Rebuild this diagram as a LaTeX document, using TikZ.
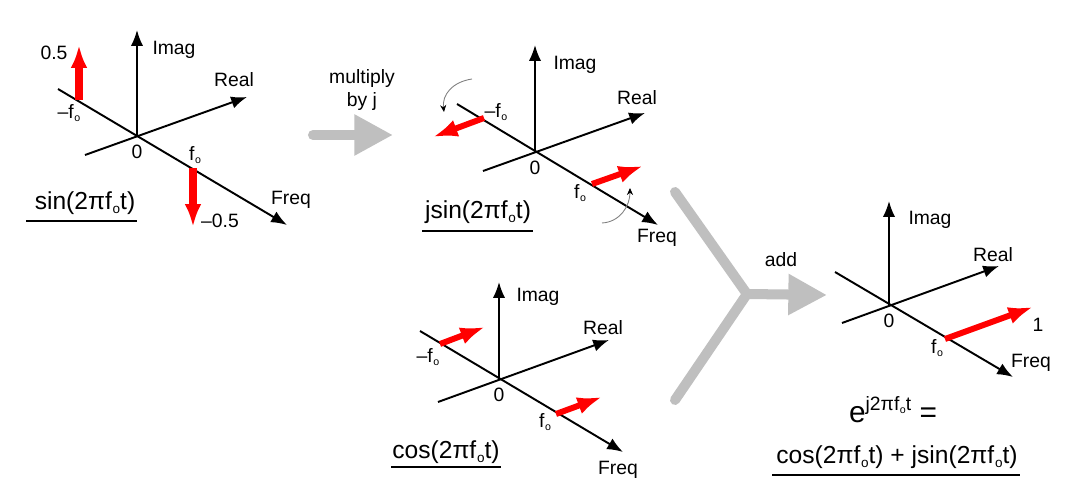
\documentclass[tikz,border=0pt]{standalone}
\usepackage{fontspec}
\setmainfont{Liberation Sans}
\usetikzlibrary{arrows.meta}
\newcommand{\fsub}{f\kern0.03em\raisebox{-0.3ex}{\scalebox{0.55}{o}}}

\begin{document}
\begin{tikzpicture}[x=0.02cm,y=-0.02cm,
  axis/.style={line width=1.1pt,-{Latex[length=9pt,width=7pt]}},
  lbl/.style={font=\fontsize{11}{13}\selectfont,inner sep=0pt},
  formula/.style={font=\fontsize{14}{17}\selectfont,inner sep=0pt},
  vec/.style={red,line width=3.4pt,-{Latex[length=14pt,width=10pt]}},
  bigvec/.style={red,line width=4pt,-{Latex[length=13pt,width=9.5pt]}},
  fat/.style={gray!50,line width=5.7pt,line cap=round,line join=round},
  fattip/.style={fat,-{Triangle[length=22pt,width=22pt]}},
  turn/.style={gray,line width=0.5pt,-{Stealth[black,length=4pt,width=3.5pt]}},
  uline/.style={line width=1.2pt}]
\useasboundingbox (0,0) rectangle (1080,496);

% axes of the four panels
\foreach \n/\ox/\oy/\im/\rbx/\rby/\ftx/\fty/\fbx/\fby in %
{s/137/136/106/-52/19/150/89/-79/-47,
 j/535/152/107/-52/19/123/73/-78/-48,
 c/499/379/97/-61/23/124/73/-79/-48,
 e/889/305/104/-47/18/124/72/-54/-33} {
   \coordinate (\n-o) at (\ox,\oy);
   \coordinate (\n-imag) at (\ox,\oy-\im);
   \coordinate (\n-rb) at (\ox+\rbx,\oy+\rby);
   \coordinate (\n-real) at (\ox+110,\oy-39);
   \coordinate (\n-fb) at (\ox+\fbx,\oy+\fby);
   \coordinate (\n-freq) at (\ox+\ftx,\oy+\fty);
   \draw[axis] (\n-o) -- (\n-imag);
   \draw[axis] (\n-rb) -- (\n-real);
   \draw[axis] (\n-fb) -- (\n-freq);
   \node[lbl] (\n-zero) at (\ox,\oy+16) {0};
}

% sin
\node[lbl] (s-imagl) at (174,50) {Imag};
\node[lbl] (s-reall) at (234,80) {Real};
\node[lbl] (s-freql) at (291,200) {Freq};
\node[lbl] (s-half) at (54,53) {0.5};
\node[lbl] (s-mhalf) at (220,221) {–0.5};
\node[lbl] (s-mfo) at (69,113) {–\fsub};
\node[lbl] (s-fo) at (195,155) {\fsub};
\coordinate (s-fm) at (79,100);
\coordinate (s-up) at (79,45);
\coordinate (s-fp) at (193,168);
\coordinate (s-dn) at (193,227);
\draw[bigvec] (s-fm) -- (s-up);
\draw[bigvec] (s-fp) -- (s-dn);
\node[formula] (s-name) at (85,203) {sin(2π\fsub t)};
\draw[uline] (26,221) -- (137,221);

% multiply by j
\node[lbl,align=center] (mul) at (362,90) {multiply\\by j};
\coordinate (m-start) at (313,135);
\coordinate (m-tip) at (393,135);
\draw[fattip] (m-start) -- (m-tip);

% jsin
\node[lbl] (j-imagl) at (575,65) {Imag};
\node[lbl] (j-reall) at (637,98) {Real};
\node[lbl] (j-freql) at (657,238) {Freq};
\node[lbl] (j-mfo) at (496,112) {–\fsub};
\node[lbl] (j-fo) at (580,193) {\fsub};
\coordinate (j-fm) at (484,118);
\coordinate (j-a) at (433,137);
\coordinate (j-fp) at (592,184);
\coordinate (j-b) at (643,166);
\draw[vec] (j-fm) -- (j-a);
\draw[vec] (j-fp) -- (j-b);
\coordinate (j-t1) at (472,79);
\coordinate (j-t2) at (444,112);
\coordinate (j-t3) at (602,223);
\coordinate (j-t4) at (630,188);
\draw[turn] (j-t1) .. controls (452,82) and (442,95) .. (j-t2);
\draw[turn] (j-t3) .. controls (620,222) and (630,206) .. (j-t4);
\node[formula] (j-name) at (478,212) {jsin(2π\fsub t)};
\draw[uline] (422,231) -- (533,231);

% cos
\node[lbl] (c-imagl) at (538,297) {Imag};
\node[lbl] (c-reall) at (603,328) {Real};
\node[lbl] (c-freql) at (618,470) {Freq};
\node[lbl] (c-mfo) at (428,357) {–\fsub};
\node[lbl] (c-fo) at (545,422) {\fsub};
\coordinate (c-fm) at (440,344);
\coordinate (c-a) at (485,327);
\coordinate (c-fp) at (556,414);
\coordinate (c-b) at (602,397);
\draw[vec] (c-fm) -- (c-a);
\draw[vec] (c-fp) -- (c-b);
\node[formula] (c-name) at (446,452) {cos(2π\fsub t)};
\draw[uline] (391,467) -- (501,467);

% add
\coordinate (y-top) at (675,192);
\coordinate (y-bot) at (675,400);
\coordinate (y-mid) at (747,294);
\coordinate (y-tip) at (827,295);
\draw[fat] (y-top) -- (y-mid) -- (y-bot);
\draw[fattip] (y-mid) -- (y-tip);
\node[lbl] (addl) at (781,260) {add};

% exp
\node[lbl] (e-imagl) at (930,220) {Imag};
\node[lbl] (e-reall) at (993,255) {Real};
\node[lbl] (e-freql) at (1031,363) {Freq};
\node[lbl] (e-one) at (1038,325) {1};
\node[lbl] (e-fo) at (937,348) {\fsub};
\coordinate (e-fp) at (945,339);
\coordinate (e-b) at (1033,307);
\draw[vec] (e-fp) -- (e-b);
\node[inner sep=0pt,font=\fontsize{17}{20}\selectfont] (e-name) at (893,410)
   {e\raisebox{0.75ex}{\fontsize{11}{13}\selectfont j2π\fsub t} =};
\node[formula] (e-sum) at (897,457) {cos(2π\fsub t) + jsin(2π\fsub t)};
\draw[uline] (772,475) -- (1020,475);
\end{tikzpicture}
\end{document}
